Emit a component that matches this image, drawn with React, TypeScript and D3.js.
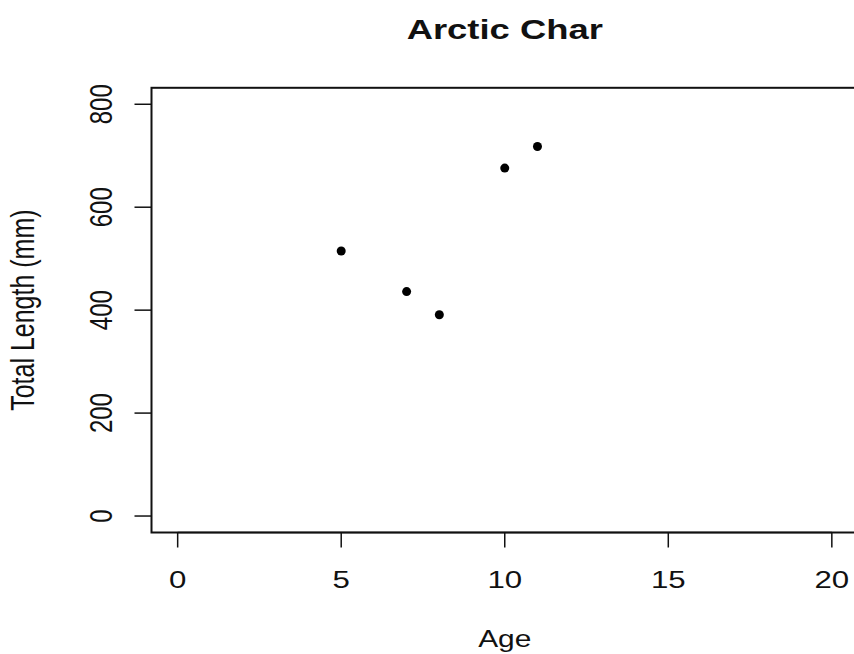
import React from "react";
import * as d3 from "d3";

const ages = [5, 7, 8, 10, 11];
const lengths = [515, 436, 391, 676, 718];
const xTicks = [0, 5, 10, 15, 20];
const yTicks = [0, 200, 400, 600, 800];
const title = "Arctic Char";
const xLabel = "Age";
const yLabel = "Total Length (mm)";

const W = 854;
const H = 654;
const FONT = "Liberation Sans, Arial, Helvetica, sans-serif";
const SX = 1.3;

export default function App() {
  const x = d3.scaleLinear().domain([-0.8, 20.8]).range([151.5, 858]);
  const y = d3.scaleLinear().domain([-32, 832]).range([532.5, 87.8]);
  const [x0, x1] = x.range();
  const [y0, y1] = y.range();
  const tick = 15;
  const cx = (x0 + x1) / 2;
  const cy = (y0 + y1) / 2;
  return (
    <svg
      width={W}
      height={H}
      style={{ position: "absolute", left: 0, top: 0, background: "#fff" }}
      fontFamily={FONT}
    >
      <rect x={0} y={0} width={W} height={H} fill="#fff" />
      <rect
        x={x0}
        y={y1}
        width={x1 - x0}
        height={y0 - y1}
        fill="none"
        stroke="#111"
        strokeWidth={2}
      />
      {/* x axis */}
      <line x1={x(xTicks[0])} x2={x(xTicks[xTicks.length - 1])} y1={y0} y2={y0} stroke="#111" strokeWidth={1.5} />
      {xTicks.map((t) => (
        <g key={"xt" + t}>
          <line x1={x(t)} x2={x(t)} y1={y0} y2={y0 + tick} stroke="#111" strokeWidth={1.5} />
          <text
            transform={`translate(${x(t)},588) scale(${SX},1)`}
            textAnchor="middle"
            fontSize={24}
            fill="#111"
          >
            {t}
          </text>
        </g>
      ))}
      {/* y axis */}
      {yTicks.map((t) => (
        <g key={"yt" + t}>
          <line x1={x0 - tick - 2} x2={x0} y1={y(t)} y2={y(t)} stroke="#111" strokeWidth={1.5} />
          <text
            transform={`translate(111.5,${y(t)}) scale(${SX},1) rotate(-90)`}
            textAnchor="middle"
            fontSize={24}
            fill="#111"
          >
            {t}
          </text>
        </g>
      ))}
      {/* points */}
      {ages.map((a, i) => (
        <circle key={"p" + i} cx={x(a)} cy={y(lengths[i])} r={4.5} fill="#000" />
      ))}
      {/* title */}
      <text
        transform={`translate(${cx},38.5) scale(${SX},1)`}
        textAnchor="middle"
        fontSize={28}
        fontWeight="bold"
        fill="#111"
      >
        {title}
      </text>
      <text
        transform={`translate(${cx},646.5) scale(${SX},1)`}
        textAnchor="middle"
        fontSize={23}
        fill="#111"
      >
        {xLabel}
      </text>
      <text
        transform={`translate(34,${cy}) scale(${SX},1) rotate(-90)`}
        textAnchor="middle"
        fontSize={25}
        fill="#111"
      >
        {yLabel}
      </text>
    </svg>
  );
}
